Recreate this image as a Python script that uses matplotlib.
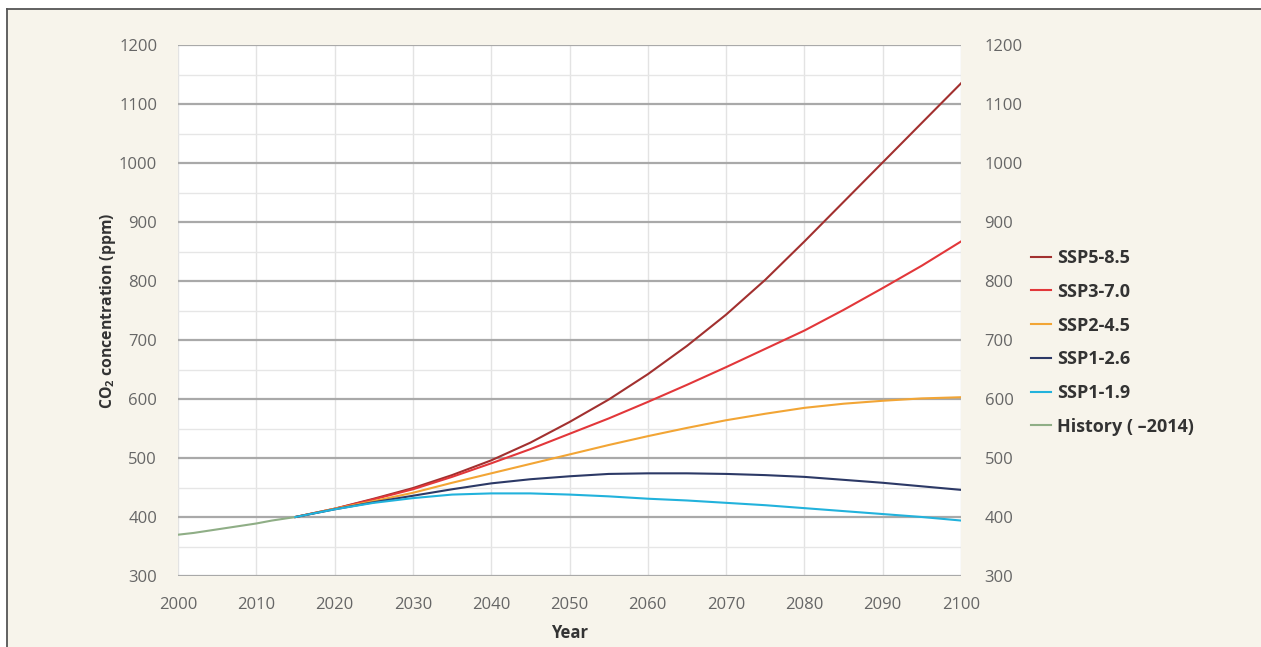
import matplotlib
matplotlib.use("Agg")
import matplotlib.pyplot as plt
from matplotlib.lines import Line2D
from matplotlib.patches import Rectangle
from matplotlib.ticker import MultipleLocator

plt.rcParams['font.family'] = ['Open Sans', 'DejaVu Sans']

# ---- data ----
years_hist = [2000, 2002, 2004, 2006, 2008, 2010, 2012, 2014]
history = [370, 373, 377, 381, 385, 389, 394, 398]

years = [2015, 2020, 2025, 2030, 2035, 2040, 2045, 2050, 2055, 2060,
         2065, 2070, 2075, 2080, 2085, 2090, 2095, 2100]
ssp585 = [400, 414, 431, 449, 471, 496, 526, 561, 599, 642,
          690, 743, 802, 867, 934, 1001, 1068, 1135]
ssp370 = [400, 414, 430, 447, 468, 491, 515, 541, 567, 595,
          624, 654, 685, 716, 751, 788, 826, 867]
ssp245 = [400, 414, 427, 441, 458, 474, 490, 506, 522, 537,
          551, 564, 575, 585, 592, 597, 601, 603]
ssp126 = [400, 413, 425, 436, 447, 457, 464, 469, 473, 474,
          474, 473, 471, 468, 463, 458, 452, 446]
ssp119 = [400, 413, 424, 432, 438, 440, 440, 438, 435, 431,
          428, 424, 420, 415, 410, 405, 400, 394]

labels = ["SSP5-8.5", "SSP3-7.0", "SSP2-4.5", "SSP1-2.6", "SSP1-1.9", "History ( \u20132014)"]
colors = ["#a2302f", "#e2373a", "#f2a535", "#2c3966", "#22b2dc", "#8fae86"]

# ---- figure ----
W, H = 1261, 647
fig = plt.figure(figsize=(W / 100, H / 100), dpi=100, facecolor="white")
cream = "#f7f4eb"
fig.patches.append(Rectangle((7 / W, 0), 1 - 7 / W, 1 - 9 / H, transform=fig.transFigure,
                             facecolor=cream, edgecolor="none", zorder=-10))
fig.lines.append(Line2D([7 / W, 7 / W], [0, 1 - 9 / H], transform=fig.transFigure,
                        color="#555555", lw=1.3))
fig.lines.append(Line2D([7 / W, 1], [1 - 9 / H, 1 - 9 / H], transform=fig.transFigure,
                        color="#555555", lw=1.3))

ax = fig.add_axes([178 / W, (H - 576) / H, (961 - 178) / W, (576 - 45) / H])
ax.set_facecolor("white")
ax.set_xlim(2000, 2100)
ax.set_ylim(300, 1200)
for s in ax.spines.values():
    s.set_visible(False)

ax.xaxis.set_major_locator(MultipleLocator(10))
ax.yaxis.set_major_locator(MultipleLocator(100))
ax.yaxis.set_minor_locator(MultipleLocator(50))
ax.grid(axis="x", which="major", color="#e3e3e3", lw=1.0, zorder=0)
ax.grid(axis="y", which="minor", color="#e6e6e6", lw=1.0, zorder=0)
ax.grid(axis="y", which="major", color="#a9a9a9", lw=1.6, zorder=1)
ax.set_axisbelow(True)

tick_fs = 12
ax.tick_params(axis="both", which="both", length=0, labelsize=tick_fs, labelcolor="#666666")
ax.tick_params(axis="x", pad=15)
ax.tick_params(axis="y", pad=15)

ax2 = ax.twinx()
ax2.set_ylim(ax.get_ylim())
ax2.yaxis.set_major_locator(MultipleLocator(100))
for s in ax2.spines.values():
    s.set_visible(False)
ax2.tick_params(axis="y", length=0, labelsize=tick_fs, labelcolor="#666666", pad=17)

lw = 1.5
ax.plot(years, ssp585, color=colors[0], lw=lw, zorder=5, label=labels[0])
ax.plot(years, ssp370, color=colors[1], lw=lw, zorder=5, label=labels[1])
ax.plot(years, ssp245, color=colors[2], lw=lw, zorder=5, label=labels[2])
ax.plot(years, ssp126, color=colors[3], lw=lw, zorder=5, label=labels[3])
ax.plot(years, ssp119, color=colors[4], lw=lw, zorder=6, label=labels[4])
ax.plot(years_hist + [2015], history + [400], color=colors[5], lw=lw, zorder=5, label=labels[5])

ax.set_xlabel("Year", fontsize=12, fontweight="bold", color="#333333", labelpad=8)
ax.set_ylabel("CO$_\\mathregular{2}$ concentration (ppm)", fontsize=11.3, fontweight="bold",
              color="#333333", labelpad=1)

leg = ax.legend(loc="center left", bbox_to_anchor=(1.09, 0.44), frameon=False,
                handlelength=1.1, handletextpad=0.3, labelspacing=0.87,
                borderaxespad=0, borderpad=0,
                prop={"size": 13, "weight": "bold"})
for t in leg.get_texts():
    t.set_color("#333333")

fig.savefig("out.png", dpi=100, facecolor=fig.get_facecolor())
